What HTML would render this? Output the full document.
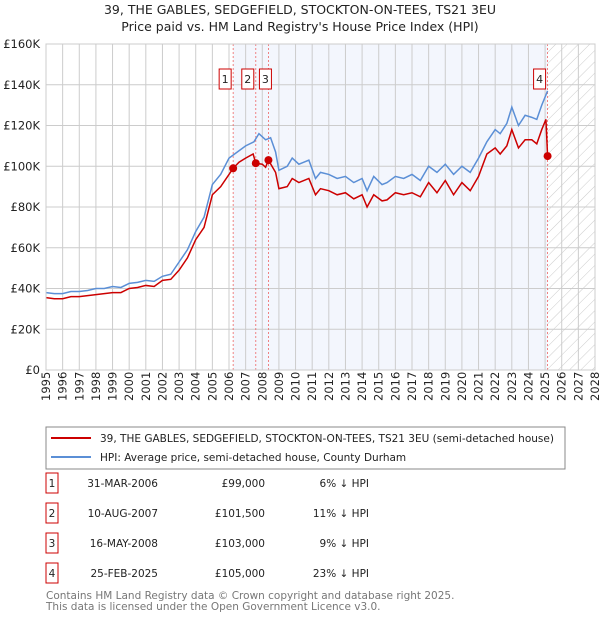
<!DOCTYPE html>
<html><head><meta charset="utf-8"><style>
body{margin:0;background:#fff;font-family:"DejaVu Sans","Liberation Sans",sans-serif}
svg text{font-family:"DejaVu Sans","Liberation Sans",sans-serif}
</style></head><body>
<svg id="c" width="600" height="620" viewBox="0 0 600 620" xmlns="http://www.w3.org/2000/svg">
<defs><pattern id="hatch" width="8" height="8" patternUnits="userSpaceOnUse" patternTransform="rotate(45)"><line x1="0" y1="0" x2="0" y2="8" stroke="#ccc" stroke-width="1"/></pattern></defs>
<text x="300" y="14" text-anchor="middle" font-size="12.5" fill="#222">39, THE GABLES, SEDGEFIELD, STOCKTON-ON-TEES, TS21 3EU</text>
<text x="300" y="31" text-anchor="middle" font-size="12.5" fill="#222">Price paid vs. HM Land Registry's House Price Index (HPI)</text>
<g id="plot"></g>
<rect x="46" y="427" width="519" height="42" fill="#fff" stroke="#888"/>
<line x1="51" y1="438" x2="91" y2="438" stroke="#cc0000" stroke-width="2"/>
<text x="100" y="442" font-size="10.5" fill="#222">39, THE GABLES, SEDGEFIELD, STOCKTON-ON-TEES, TS21 3EU (semi-detached house)</text>
<line x1="51" y1="457" x2="91" y2="457" stroke="#5b8fd6" stroke-width="2"/>
<text x="100" y="461" font-size="10.5" fill="#222">HPI: Average price, semi-detached house, County Durham</text>
<g id="tbl" font-size="10.5" fill="#222"></g>
<text x="46" y="599" font-size="10.5" fill="#777">Contains HM Land Registry data © Crown copyright and database right 2025.</text>
<text x="46" y="610" font-size="10.5" fill="#777">This data is licensed under the Open Government Licence v3.0.</text>
</svg>
<script>
const hpiX=[1995,1995.5,1996,1996.5,1997,1997.5,1998,1998.5,1999,1999.5,2000,2000.5,2001,2001.5,2002,2002.5,2003,2003.5,2004,2004.5,2005,2005.5,2006,2006.5,2007,2007.5,2007.8,2008.2,2008.5,2008.8,2009,2009.5,2009.8,2010.2,2010.5,2010.8,2011.2,2011.5,2012,2012.5,2013,2013.5,2014,2014.3,2014.7,2015.2,2015.5,2016,2016.5,2017,2017.5,2018,2018.5,2019,2019.5,2020,2020.5,2021,2021.5,2022,2022.3,2022.7,2023,2023.4,2023.8,2024.2,2024.5,2024.8,2025.15];
const hpiY=[38,37.5,37.5,38.5,38.5,39,40,40,41,40.5,42.5,43,44,43.5,46,47,53,59,68,75,91,96,104,107,110,112,116,113,114,107,98,100,104,101,102,103,94,97,96,94,95,92,94,88,95,91,92,95,94,96,93,100,97,101,96,100,97,104,112,118,116,121,129,120,125,124,123,130,137];
const ppX=[1995,1995.5,1996,1996.5,1997,1997.5,1998,1998.5,1999,1999.5,2000,2000.5,2001,2001.5,2002,2002.5,2003,2003.5,2004,2004.5,2005,2005.5,2006.25,2006.6,2007,2007.45,2007.61,2008.0,2008.2,2008.37,2008.8,2009,2009.5,2009.8,2010.2,2010.8,2011.2,2011.5,2012,2012.5,2013,2013.5,2014,2014.3,2014.7,2015.2,2015.5,2016,2016.5,2017,2017.5,2018,2018.5,2019,2019.5,2020,2020.5,2021,2021.5,2022,2022.3,2022.7,2023,2023.4,2023.8,2024.2,2024.5,2024.8,2025.05,2025.15];
const ppY=[35.5,35,35,36,36,36.5,37,37.5,38,38,40,40.5,41.5,41,44,44.5,49,55,64,70,86,90,99,102,104,106,101.5,101,99.5,103,97,89,90,94,92,94,86,89,88,86,87,84,86,80,86,83,83.5,87,86,87,85,92,87,93,86,92,88,95,106,109,106,110,118,109,113,113,111,118,123,105];
const saleX=[2006.25,2007.61,2008.37,2025.15];
const saleY=[99,101.5,103,105];
const saleLabel=["1","2","3","4"];
const saleDate=["31-MAR-2006","10-AUG-2007","16-MAY-2008","25-FEB-2025"];
const salePrice=["£99,000","£101,500","£103,000","£105,000"];
const saleHpi=["6% ↓ HPI","11% ↓ HPI","9% ↓ HPI","23% ↓ HPI"];
const yTicks=[0,20,40,60,80,100,120,140,160];
const yTickLabels=["£0","£20K","£40K","£60K","£80K","£100K","£120K","£140K","£160K"];
const X0=46,X1=595,Y0=370,Y1=44,YR0=1995,YR1=2028;
const sx=v=>X0+(v-YR0)/(YR1-YR0)*(X1-X0);
const sy=v=>Y0-v/160*(Y0-Y1);
const NS="http://www.w3.org/2000/svg";
const g=document.getElementById('plot');
function mk(t,a,p){const e=document.createElementNS(NS,t);for(const k in a)e.setAttribute(k,a[k]);(p||g).appendChild(e);return e;}
let e;
e=mk('rect',{x:sx(saleX[0]),y:Y1,width:sx(saleX[3])-sx(saleX[0]),height:Y0-Y1,fill:'#f3f6fd'});


e=mk('rect',{x:sx(saleX[3]),y:Y1,width:X1-sx(saleX[3]),height:Y0-Y1,fill:'url(#hatch)'});


for(let yr=YR0;yr<=YR1;yr++){
 e=mk('line',{x1:sx(yr),x2:sx(yr),y1:Y1,y2:Y0,stroke:'#ccc','stroke-width':1});
 
 
 e=mk('text',{transform:`translate(${sx(yr)+4},${Y0+31}) rotate(-90)`,'font-size':11.5,fill:'#222'});
 e.textContent=yr;
 
 
}
yTicks.forEach((v,i)=>{
 e=mk('line',{x1:X0,x2:X1,y1:sy(v),y2:sy(v),stroke:'#ccc','stroke-width':1});
 
 
 e=mk('text',{x:X0-6,y:sy(v)+4,'text-anchor':'end','font-size':11.5,fill:'#222'});
 e.textContent=yTickLabels[i];
 
 
});
saleX.forEach((v,i)=>{
 e=mk('line',{x1:sx(v),x2:sx(v),y1:Y1,y2:Y0,stroke:'#e66','stroke-width':0.8,'stroke-dasharray':'2,2'});
 
 
});
e=mk('polyline',{points:hpiX.map((x,i)=>sx(x)+','+sy(hpiY[i])).join(' '),fill:'none',stroke:'#5b8fd6','stroke-width':1.5});


e=mk('polyline',{points:ppX.map((x,i)=>sx(x)+','+sy(ppY[i])).join(' '),fill:'none',stroke:'#cc0000','stroke-width':1.5});


const offs=[-2,-2,3,-2];
saleX.forEach((v,i)=>{
 e=mk('circle',{cx:sx(v),cy:sy(saleY[i]),r:4,fill:'#cc0000'});
 
 
 const bx=sx(v)+offs[i]-12;
 e=mk('rect',{x:bx,y:69,width:12,height:20,fill:'#fff',stroke:'#cc0000'});
 
 
 e=mk('text',{x:bx+6,y:83,'text-anchor':'middle','font-size':11,fill:'#222'});
 e.textContent=saleLabel[i];
 
 
});
e=mk('rect',{x:X0,y:Y1,width:X1-X0,height:Y0-Y1,fill:'none',stroke:'#ccc'});
const t=document.getElementById('tbl');
saleLabel.forEach((l,i)=>{
 const cy=483+i*30;
 e=mk('rect',{x:46,y:cy-10,width:12,height:20,fill:'#fff',stroke:'#cc0000'},t);
 
 
 e=mk('text',{x:52,y:cy+4,'text-anchor':'middle'},t);e.textContent=l;
 
 
 e=mk('text',{x:158,y:cy+4,'text-anchor':'end'},t);e.textContent=saleDate[i];
 
 
 e=mk('text',{x:265,y:cy+4,'text-anchor':'end'},t);e.textContent=salePrice[i];
 
 
 e=mk('text',{x:369,y:cy+4,'text-anchor':'end'},t);e.textContent=saleHpi[i];
 
 
});
</script>
</body></html>
